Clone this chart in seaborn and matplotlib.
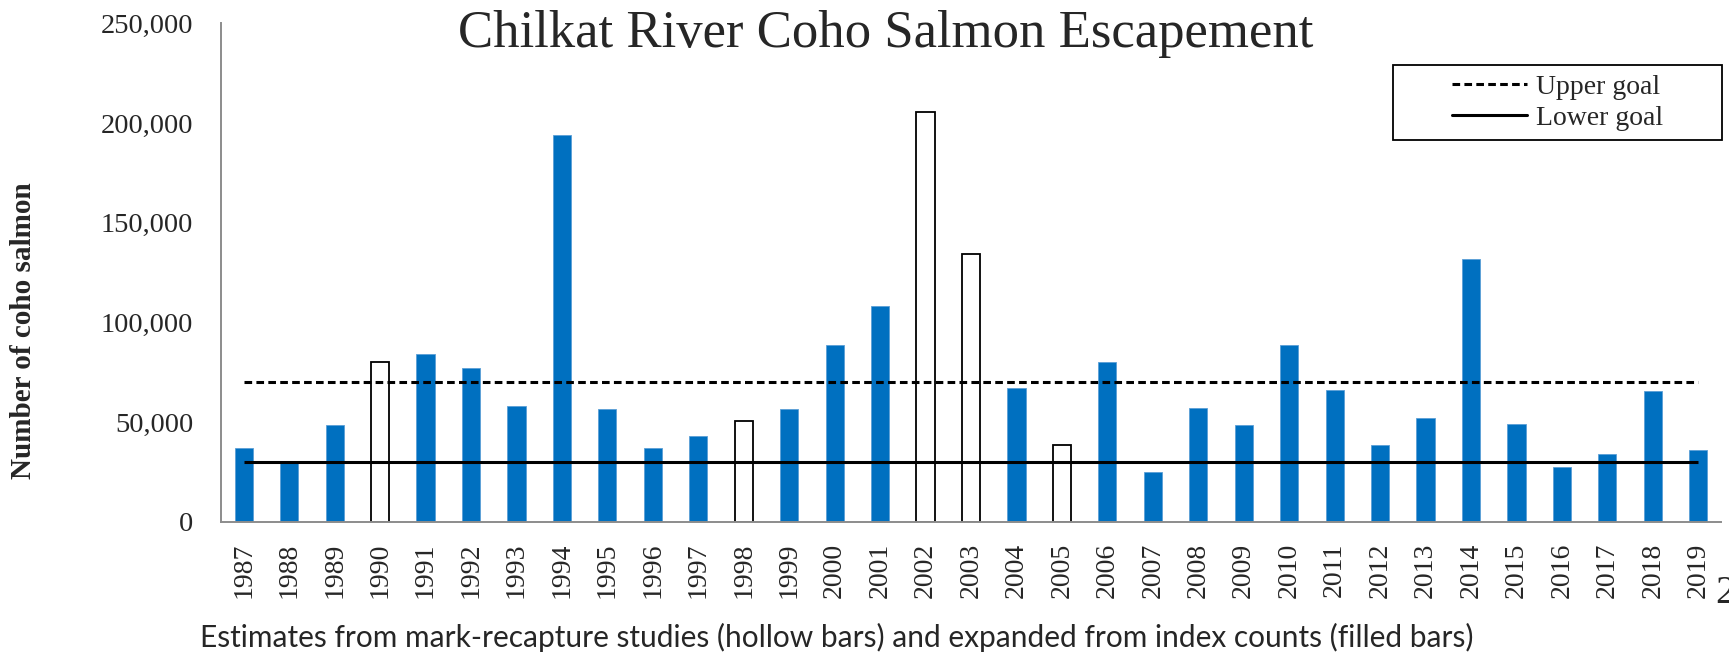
import pandas as pd
import seaborn as sns
import matplotlib.pyplot as plt
from matplotlib.lines import Line2D
from matplotlib.patches import Rectangle
from matplotlib.ticker import FuncFormatter, FixedLocator

# escapement by year
years = list(range(1987, 2020))
counts = [37000, 29800, 48500, 80000, 84100, 77200, 57900, 194200, 56300, 37000,
          43200, 50600, 56700, 88500, 108300, 205400, 134200, 67000, 38400, 80300,
          25000, 57000, 48700, 88900, 66200, 38400, 51800, 131800, 48800, 27300,
          34000, 65800, 35800]
# mark-recapture years are drawn hollow
hollow_years = [1990, 1998, 2002, 2003, 2005]

upper_goal = 70000
lower_goal = 30000

df = pd.DataFrame({'year': [str(y) for y in years], 'count': counts})
df['method'] = ['mark-recapture' if y in hollow_years else 'index' for y in years]

sns.set_style('white')
plt.rcParams['font.family'] = ['Liberation Serif', 'DejaVu Serif']

fig = plt.figure(figsize=(17.29, 6.54), dpi=100)
ax = fig.add_axes([221 / 1729, 1 - 521.7 / 654, 1500 / 1729, 498.3 / 654])

sns.barplot(data=df, x='year', y='count', hue='method', dodge=False, width=0.4,
            palette={'index': '#0070C0', 'mark-recapture': 'white'}, saturation=1,
            legend=False, ax=ax)

# style bars: hollow ones get a black outline
for patch in ax.patches:
    r, g, b, _ = patch.get_facecolor()
    if r > 0.9 and g > 0.9 and b > 0.9:
        patch.set_edgecolor('black')
        patch.set_linewidth(1.3)
    else:
        patch.set_edgecolor('#5a9fd6')
        patch.set_linewidth(0.6)

# goal lines from first to last bar
ax.hlines(upper_goal, 0, len(years) - 1, colors='black', linewidth=2.2,
          linestyles=(0, (2.5, 1.4)), zorder=5)
ax.hlines(lower_goal, 0, len(years) - 1, colors='black', linewidth=2.2, zorder=5)

ax.set_xlim(-0.5, len(years) - 0.5)
ax.set_ylim(0, 250000)
ax.set_yticks(range(0, 250001, 50000))
ax.yaxis.set_major_formatter(FuncFormatter(lambda v, p: f'{int(v):,}'))
ax.set_xlabel('')
ax.set_ylabel('')

# excel-style ticks between categories
ax.xaxis.set_minor_locator(FixedLocator([i - 0.5 for i in range(len(years) + 1)]))
ax.tick_params(axis='x', which='major', length=0, pad=15, labelsize=20, rotation=90)
ax.tick_params(axis='x', which='minor', length=6, width=1.3, color='#8c8c8c', direction='out')
ax.tick_params(axis='y', length=5, width=1.3, color='#8c8c8c', direction='out', pad=15, labelsize=20.5)

sns.despine(ax=ax)
for s in ['left', 'bottom']:
    ax.spines[s].set_color('#8c8c8c')
    ax.spines[s].set_linewidth(1.4)

# legend for the goal lines, with a wide hand-drawn frame
handles = [Line2D([], [], color='black', lw=2.2, linestyle=(0, (2.5, 1.4))),
           Line2D([], [], color='black', lw=2.2)]
ax.legend(handles, ['Upper goal', 'Lower goal'], loc='center', bbox_to_anchor=(0.891, 0.8413),
          frameon=False, fontsize=20, handlelength=2.7, handletextpad=0.3,
          labelspacing=0.2, borderaxespad=0)
ax.add_patch(Rectangle((0.7813, 0.766), 0.2194, 0.1505, transform=ax.transAxes,
                       fill=False, edgecolor='black', linewidth=1.3, clip_on=False, zorder=6))

fig.text(886 / 1729, 1 - 47 / 654, 'Chilkat River Coho Salmon Escapement',
         ha='center', va='baseline', fontsize=38)
fig.text(24 / 1729, 1 - 331 / 654, 'Number of coho salmon', rotation=90,
         ha='center', va='center', fontsize=21, fontweight='bold')
fig.text(837 / 1729, 1 - 637 / 654,
         'Estimates from mark-recapture studies (hollow bars) and expanded from index counts (filled bars)',
         ha='center', va='center', fontsize=21.5, family=['Lato', 'DejaVu Sans'])
fig.text(1715 / 1729, 1 - 603 / 654, '2', ha='left', va='baseline', fontsize=29)

fig.savefig('out.png', dpi=100)
